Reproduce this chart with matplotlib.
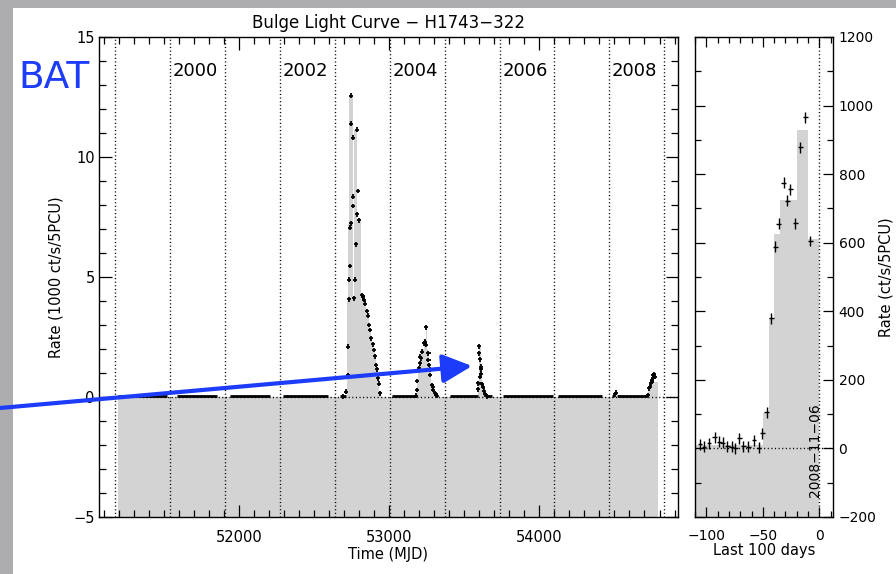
import numpy as np
import matplotlib
matplotlib.use('Agg')
import matplotlib.pyplot as plt
from matplotlib.ticker import MultipleLocator, FixedLocator
from matplotlib.patches import FancyArrowPatch, Rectangle

# ---------------- data ----------------
year_line_mjd = [51179, 51544, 51910, 52275, 52640, 53005, 53371, 53736, 54101, 54466, 54832]
year_labels = ['2000', '2002', '2004', '2006', '2008']
year_label_mjd = [51544, 52275, 53005, 53736, 54466]

# quiescent (near-zero) observing segments, MJD
baseline_start = [51199, 51587, 51942, 52297, 52674, 53018, 53406, 53650, 53760, 54126, 54482, 54516]
baseline_end = [51521, 51854, 52208, 52596, 52714, 53180, 53592, 53683, 54093, 54415, 54500, 54725]
baseline_rate = 0.03

# outburst points (MJD, rate in 1000 ct/s/5PCU)
outburst_mjd = [52696, 52714, 52725, 52725, 52736, 52736, 52742, 52742, 52745, 52747,
                52749, 52758, 52758, 52758, 52767, 52774, 52782, 52785, 52789, 52792,
                52798, 52818, 52825, 52829, 52836, 52842, 52852, 52858, 52867, 52874,
                52882, 52892, 52898, 52905, 52913, 52918, 52925, 52931, 52940,
                53180, 53184, 53185, 53200, 53206, 53207, 53213, 53218, 53235, 53237,
                53240, 53244, 53246, 53262, 53262, 53266, 53273, 53273, 53284, 53291,
                53295, 53306, 53310, 53317,
                53594, 53595, 53601, 53601, 53603, 53606, 53610, 53614, 53614, 53616,
                53624, 53632, 53639, 53650,
                54505, 54510,
                54725, 54732, 54737, 54741, 54748, 54749, 54754, 54758, 54763, 54770]
outburst_rate = [0.01, 0.22, 0.92, 2.10, 4.07, 4.88, 5.46, 7.05, 7.24, 12.55,
                 11.39, 10.80, 8.35, 7.96, 4.11, 4.88, 6.36, 11.13, 7.61, 8.58,
                 7.36, 4.25, 4.21, 4.15, 4.04, 3.88, 3.58, 3.38, 3.00, 2.79,
                 2.44, 2.20, 1.96, 1.70, 1.33, 1.15, 0.78, 0.55, 0.16,
                 0.05, 0.29, 0.67, 1.20, 1.40, 1.68, 1.61, 1.89, 2.24, 2.27,
                 2.30, 2.17, 2.90, 1.82, 1.54, 1.33, 0.92, 1.13, 0.50, 0.43,
                 0.29, 0.15, 0.08, 0.05,
                 0.32, 0.57, 2.12, 1.82, 0.85, 1.57, 1.15, 1.26, 0.96, 0.54,
                 0.43, 0.26, 0.12, 0.03,
                 0.12, 0.18,
                 0.08, 0.36, 0.43, 0.57, 0.71, 0.64, 0.78, 0.92, 0.95, 0.85]

# grey histogram of the long light curve
hist_edges = [51199, 52718, 52729, 52734, 52763, 52769, 52785, 52815, 52822, 52832,
              52840, 52848, 52856, 52864, 52872, 52880, 52888, 52896, 52904, 52912,
              52920, 52928, 52936, 52945, 53184, 53195, 53204, 53212, 53220, 53232,
              53245, 53252, 53258, 53268, 53278, 53288, 53298, 53308, 53318, 53594,
              53599, 53610, 53620, 53630, 53650, 54502, 54516, 54725, 54735, 54745,
              54752, 54762, 54792]
hist_levels = [0.0, 4.0, 7.2, 12.55, 4.2, 11.13, 7.4, 4.25, 4.18, 4.0,
               3.8, 3.55, 3.3, 3.0, 2.75, 2.45, 2.15, 1.9, 1.65, 1.3,
               0.9, 0.55, 0.2, 0.0, 0.6, 1.2, 1.5, 1.8, 2.0, 2.25,
               2.9, 2.0, 1.7, 1.1, 0.6, 0.35, 0.15, 0.06, 0.0, 0.5,
               2.1, 1.1, 0.4, 0.15, 0.0, 0.18, 0.0, 0.3, 0.5, 0.7,
               0.85, 0.62]

# last 100 days (days before 2008-11-06, ct/s/5PCU)
recent_days = [-105.6, -102.0, -97.6, -92.6, -88.5, -85.5, -81.4, -77.6, -74.4, -70.8,
               -67.3, -62.9, -57.8, -53.4, -50.5, -46.6, -42.5, -39.0, -36.0, -31.6,
               -28.4, -25.7, -21.3, -16.9, -12.5, -8.1]
recent_rate = [12, 5, 15, 32, 19, 17, 7, 5, 0, 29,
               7, 5, 24, 2, 44, 105, 379, 588, 656, 775,
               722, 756, 657, 878, 966, 605]
recent_hist_edges = [-115, -50, -45, -40, -35, -20, -10, 0]
recent_hist_levels = [10, 103, 380, 624, 725, 929, 612]

# ---------------- figure ----------------
W, H = 896, 574
fig = plt.figure(figsize=(W / 100, H / 100), dpi=100, facecolor='#adadb0')
fig.patches.append(Rectangle((13 / W, 0), 1 - 13 / W, 1 - 8 / H, transform=fig.transFigure,
                             facecolor='white', edgecolor='none', zorder=-10))

grey = '#d3d3d3'
dot = (0, (0.8, 1.8))
blue = '#1c3cfa'

def px_axes(x0, x1, y0, y1):
    return fig.add_axes([x0 / W, 1 - y1 / H, (x1 - x0) / W, (y1 - y0) / H])

ax = px_axes(99, 678, 37, 517)
ax2 = px_axes(695, 833, 37, 517)

# ---- left panel ----
ax.set_xlim(51070, 54923)
ax.set_ylim(-5, 15)
ax.stairs(hist_levels, hist_edges, baseline=-5, fill=True, color=grey, zorder=1)
ax.axhline(0, color='k', lw=1.0, ls=dot, zorder=2)
for m in year_line_mjd:
    ax.axvline(m, color='k', lw=1.0, ls=dot, zorder=2)
for lab, m in zip(year_labels, year_label_mjd):
    ax.text(m + 18, 13.6, lab, fontsize=13, ha='left', va='center', zorder=3)
ax.hlines([baseline_rate] * len(baseline_start), baseline_start, baseline_end,
          color='k', lw=2.0, zorder=3)
ax.errorbar(outburst_mjd, outburst_rate, xerr=14, yerr=0.1, fmt='none',
            ecolor='k', elinewidth=1.3, zorder=4)

ax.xaxis.set_major_locator(FixedLocator([52000, 53000, 54000]))
ax.xaxis.set_minor_locator(MultipleLocator(100))
ax.yaxis.set_major_locator(MultipleLocator(5))
ax.yaxis.set_minor_locator(MultipleLocator(1))
ax.tick_params(which='both', direction='in', top=True, right=True, width=0.9)
ax.tick_params(which='major', length=9, labelsize=10.5)
ax.tick_params(which='minor', length=5)
ax.tick_params(axis='x', pad=9)
ax.tick_params(axis='y', pad=3)

# ---- right panel ----
ax2.set_xlim(-110, 12)
ax2.set_ylim(-200, 1200)
ax2.stairs(recent_hist_levels, recent_hist_edges, baseline=-200, fill=True, color=grey, zorder=1)
ax2.axhline(0, color='k', lw=1.0, ls=dot, zorder=2)
ax2.axvline(0, color='k', lw=1.0, ls=dot, zorder=2)
ax2.errorbar(recent_days, recent_rate, xerr=2.0, yerr=16, fmt='none',
             ecolor='k', elinewidth=1.0, zorder=4)
ax2.text(-3.5, -143, '2008\u221211\u221206', rotation=90, fontsize=10,
         ha='center', va='bottom', zorder=5)

ax2.xaxis.set_major_locator(FixedLocator([-100, -50, 0]))
ax2.xaxis.set_minor_locator(MultipleLocator(10))
ax2.yaxis.set_major_locator(MultipleLocator(200))
ax2.yaxis.set_minor_locator(MultipleLocator(100))
ax2.yaxis.tick_right()
ax2.tick_params(which='both', direction='in', top=True, left=True, right=True,
                labelleft=False, labelright=True, width=0.9)
ax2.tick_params(which='major', length=7, labelsize=10)
ax2.tick_params(which='minor', length=4)
ax2.tick_params(axis='x', pad=9)
ax2.tick_params(axis='y', pad=4)

for a in (ax, ax2):
    for s in a.spines.values():
        s.set_linewidth(1.0)

# ---- labels ----
fig.text(388 / W, 1 - 23 / H, 'Bulge Light Curve \u2212 H1743\u2212322', fontsize=12,
         ha='center', va='center')
fig.text(388 / W, 1 - 555 / H, 'Time (MJD)', fontsize=10.5, ha='center', va='center')
fig.text(764 / W, 1 - 551 / H, 'Last 100 days', fontsize=10.5, ha='center', va='center')
fig.text(56 / W, 1 - 277 / H, 'Rate (1000 ct/s/5PCU)', fontsize=10.5, rotation=90,
         ha='center', va='center')
fig.text(886 / W, 1 - 277 / H, 'Rate (ct/s/5PCU)', fontsize=10.5, rotation=90,
         ha='center', va='center')

# ---- annotation ----
fig.text(18 / W, 1 - 78 / H, 'BAT', color=blue, fontsize=27, ha='left', va='center')
arrow = FancyArrowPatch((0, 1 - 408 / H), (472 / W, 1 - 366 / H), transform=fig.transFigure,
                        arrowstyle='-|>,head_length=0.45,head_width=0.22', mutation_scale=40,
                        lw=3, color=blue, shrinkA=0, shrinkB=0, zorder=20)
fig.add_artist(arrow)

fig.savefig('out.png', dpi=100, facecolor=fig.get_facecolor())
